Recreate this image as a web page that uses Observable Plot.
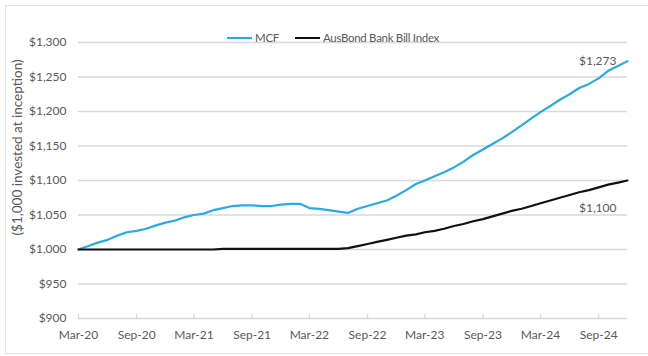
<!DOCTYPE html>
<html>
<head>
<meta charset="utf-8">
<script src="https://cdn.jsdelivr.net/npm/d3@7"></script>
<script src="https://cdn.jsdelivr.net/npm/@observablehq/plot@0.6"></script>
<style>
  html, body { margin: 0; padding: 0; background: #fff; }
  #wrap { position: relative; width: 648px; height: 356px; overflow: hidden; font-family: Lato, "Open Sans", sans-serif; }
  #frame { position: absolute; left: 5px; top: 5px; width: 645px; height: 349px; border-top: 1px solid #e3e3e3; border-left: 1px solid #e3e3e3; border-bottom: 1px solid #e3e3e3; box-sizing: border-box; }
  #legend { position: absolute; top: 31px; left: 227px; font-size: 11.5px; letter-spacing: -0.3px; color: #595959; display: flex; align-items: center; white-space: nowrap; }
  #legend .sw { display: inline-block; width: 25px; height: 2px; margin-right: 3px; }
  #legend .item { display: flex; align-items: center; margin-right: 16px; }
  #chart { position: absolute; left: 0; top: 0; }
</style>
</head>
<body>
<div id="wrap">
  <div id="frame"></div>
  <div id="chart"></div>
  <div id="legend"></div>
</div>
<script>
// Series names and colours
const seriesNames = ["MCF", "AusBond Bank Bill Index"];
const seriesColors = ["#29abe2", "#111111"];

// Monthly values, Mar-20 .. Dec-24 ($1,000 invested at inception)
const mcf = [
  1000, 1005, 1010, 1014, 1020, 1025, 1027, 1030, 1035, 1039, 1042, 1047,
  1050, 1052, 1057, 1060, 1063, 1064, 1064, 1063, 1063, 1065, 1066, 1066,
  1060, 1059, 1057, 1055, 1053, 1059, 1063, 1067, 1071, 1078, 1086, 1095,
  1100, 1106, 1112, 1119, 1127, 1137, 1145, 1153, 1161, 1170, 1180, 1190,
  1199, 1208, 1217, 1225, 1234, 1240, 1248, 1259, 1266, 1273
];
const ausbond = [
  1000, 1000, 1000, 1000, 1000, 1000, 1000, 1000, 1000, 1000, 1000, 1000,
  1000, 1000, 1000, 1001, 1001, 1001, 1001, 1001, 1001, 1001, 1001, 1001,
  1001, 1001, 1001, 1001, 1002, 1005, 1008, 1011, 1014, 1017, 1020, 1022,
  1025, 1027, 1030, 1034, 1037, 1041, 1044, 1048, 1052, 1056, 1059, 1063,
  1067, 1071, 1075, 1079, 1083, 1086, 1090, 1094, 1097, 1100
];

// Axis ticks
const xTickLabels = ["Mar-20","Sep-20","Mar-21","Sep-21","Mar-22","Sep-22","Mar-23","Sep-23","Mar-24","Sep-24"];
const yTicks = [900, 950, 1000, 1050, 1100, 1150, 1200, 1250, 1300];
const yLabel = "($1,000 invested at inception)";

// End-value labels
const endLabels = ["$1,273", "$1,100"];

const parseMonth = d3.utcParse("%b-%y");
const start = parseMonth("Mar-20");
const dates = mcf.map((_, i) => d3.utcMonth.offset(start, i));
const xTicks = xTickLabels.map(parseMonth);
const lastDate = dates[dates.length - 1];

const data = [
  ...mcf.map((v, i) => ({date: dates[i], value: v, series: seriesNames[0]})),
  ...ausbond.map((v, i) => ({date: dates[i], value: v, series: seriesNames[1]}))
];
const lastMcf = [{date: lastDate, value: mcf[mcf.length - 1], label: endLabels[0]}];
const lastAus = [{date: lastDate, value: ausbond[ausbond.length - 1], label: endLabels[1]}];

const fmtDollar = d => "$" + d3.format(",")(d);

const chart = Plot.plot({
  width: 648,
  height: 356,
  marginLeft: 78,
  marginRight: 21,
  marginTop: 42,
  marginBottom: 38,
  style: {fontFamily: "Lato, 'Open Sans', sans-serif", fontSize: "12px", color: "#595959", background: "transparent"},
  x: {type: "utc", domain: [start, lastDate]},
  y: {domain: [900, 1300]},
  color: {domain: seriesNames, range: seriesColors},
  marks: [
    Plot.ruleY(yTicks, {stroke: "#d9d9d9", strokeWidth: 1.3}),
    Plot.ruleX(xTicks, {y1: 900, y2: 906, stroke: "#d9d9d9", strokeWidth: 1.3}),
    Plot.axisY({ticks: yTicks, tickFormat: fmtDollar, tickSize: 0, tickPadding: 12,
      label: null, fill: "#595959", fontSize: 12}),
    Plot.text([yLabel], {frameAnchor: "left", text: d => d, rotate: -90, textAnchor: "middle", dx: -61, dy: -33,
      fill: "#595959", fontSize: 13.5}),
    Plot.axisX({ticks: xTicks, tickFormat: d3.utcFormat("%b-%y"), tickSize: 0, tickPadding: 12,
      label: null, fill: "#595959", fontSize: 12}),
    Plot.line(data, {x: "date", y: "value", stroke: "series", z: "series", strokeWidth: 2.2, curve: "linear"}),
    Plot.text(lastMcf, {x: "date", y: "value", text: "label", textAnchor: "end", dx: -11, dy: 0, fill: "#595959", fontSize: 12}),
    Plot.text(lastAus, {x: "date", y: "value", text: "label", textAnchor: "end", dx: -11, dy: 28, fill: "#595959", fontSize: 12})
  ]
});
document.getElementById("chart").appendChild(chart);

// Legend
const legend = document.getElementById("legend");
seriesNames.forEach((name, i) => {
  const item = document.createElement("span");
  item.className = "item";
  const sw = document.createElement("span");
  sw.className = "sw";
  sw.style.background = seriesColors[i];
  item.appendChild(sw);
  item.appendChild(document.createTextNode(name));
  legend.appendChild(item);
});
</script>
</body>
</html>
